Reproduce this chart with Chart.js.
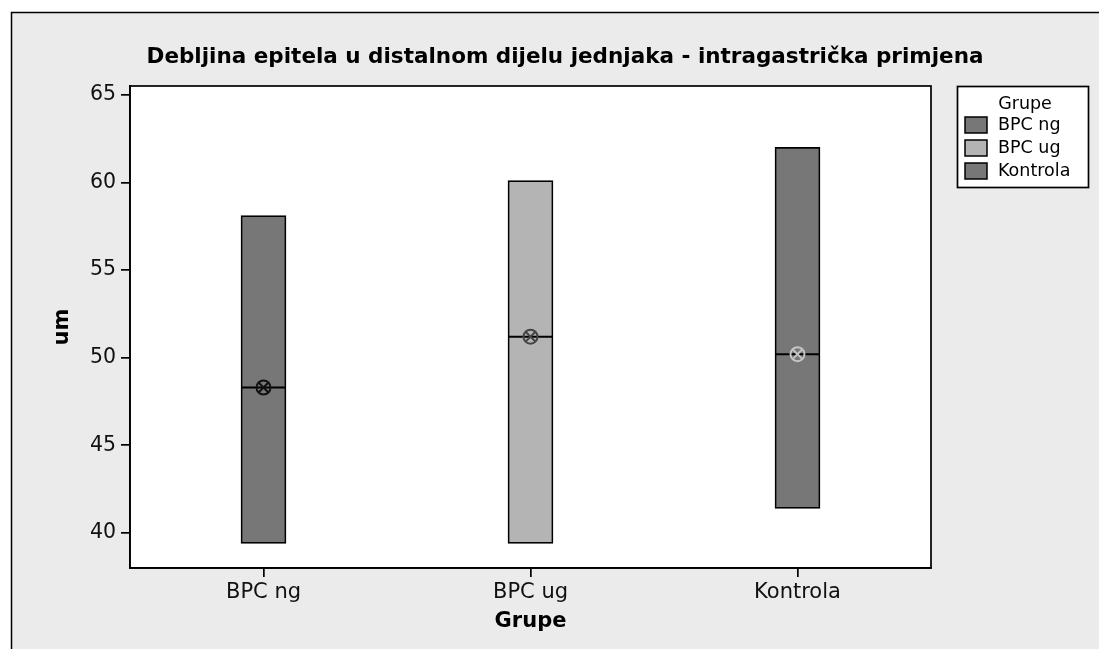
<!DOCTYPE html>
<html>
<head>
<meta charset="utf-8">
<script src="https://cdn.jsdelivr.net/npm/chart.js@4.4.1/dist/chart.umd.min.js"></script>
<style>
  html, body { margin: 0; padding: 0; background: #ffffff; }
  #wrap { width: 1099px; height: 649px; }
</style>
</head>
<body>
<div id="wrap"><canvas id="c" width="1099" height="649"></canvas></div>
<script>
// ---- data ----
const chartTitle = 'Debljina epitela u distalnom dijelu jednjaka - intragastrička primjena';
const categories = ['BPC ng', 'BPC ug', 'Kontrola'];
const lowValues = [39.4, 39.4, 41.4];
const highValues = [58.1, 60.1, 62.0];
const medianValues = [48.3, 51.2, 50.2];
const meanValues = [48.3, 51.2, 50.2];
const yTicks = [40, 45, 50, 55, 60, 65];
const xAxisTitle = 'Grupe';
const yAxisTitle = 'um';
const legendTitle = 'Grupe';

// ---- styles ----
const boxColors = ['#777777', '#b4b4b4', '#777777'];
const meanColors = ['#111111', '#444444', '#c4c4c4'];
const FONT = '"DejaVu Sans", Verdana, sans-serif';

const floating = categories.map((c, i) => [lowValues[i], highValues[i]]);

const decor = {
  id: 'decor',
  beforeDraw(chart) {
    const ctx = chart.ctx, W = chart.width, H = chart.height, a = chart.chartArea;
    ctx.save();
    ctx.fillStyle = '#ffffff';
    ctx.fillRect(0, 0, W, H);
    ctx.fillStyle = '#ebebeb';
    ctx.fillRect(11, 12, W - 11, H - 12);
    ctx.strokeStyle = '#000';
    ctx.lineWidth = 1.5;
    ctx.beginPath();
    ctx.moveTo(11.5, H); ctx.lineTo(11.5, 12.5); ctx.lineTo(W, 12.5);
    ctx.stroke();
    ctx.fillStyle = '#ffffff';
    ctx.fillRect(a.left, a.top, a.right - a.left, a.bottom - a.top);
    // title
    ctx.fillStyle = '#000';
    ctx.font = 'bold 21.5px ' + FONT;
    ctx.textAlign = 'center';
    ctx.textBaseline = 'middle';
    ctx.fillText(chartTitle, 565, 57);
    ctx.restore();
  },
  afterDraw(chart) {
    const ctx = chart.ctx, a = chart.chartArea;
    ctx.save();
    ctx.strokeStyle = '#000';
    ctx.lineWidth = 1.7;
    ctx.strokeRect(a.left, a.top, a.right - a.left, a.bottom - a.top);
    // legend
    const lx = 957, ly = 86, lw = 131, lh = 101;
    ctx.fillStyle = '#fff';
    ctx.fillRect(lx, ly, lw, lh);
    ctx.strokeRect(lx + 0.5, ly + 0.5, lw, lh);
    ctx.fillStyle = '#000';
    ctx.font = '17.5px ' + FONT;
    ctx.textAlign = 'center';
    ctx.textBaseline = 'middle';
    ctx.fillText(legendTitle, 1025, 104);
    ctx.textAlign = 'left';
    categories.forEach((c, i) => {
      const cy = 125 + i * 23;
      ctx.fillStyle = boxColors[i];
      ctx.fillRect(965, cy - 8, 22, 16);
      ctx.lineWidth = 1.5;
      ctx.strokeRect(965, cy - 8, 22, 16);
      ctx.fillStyle = '#000';
      ctx.fillText(c, 998, cy);
    });
    ctx.restore();
  }
};

new Chart(document.getElementById('c'), {
  data: {
    labels: categories,
    datasets: [
      {
        type: 'line', label: 'meanCircle', data: meanValues, showLine: false, order: 1,
        pointStyle: 'circle', pointRadius: 7, pointBorderWidth: 2,
        pointBackgroundColor: 'rgba(0,0,0,0)', pointBorderColor: meanColors
      },
      {
        type: 'line', label: 'meanCross', data: meanValues, showLine: false, order: 1,
        pointStyle: 'crossRot', pointRadius: 7, pointBorderWidth: 2,
        pointBackgroundColor: 'rgba(0,0,0,0)', pointBorderColor: meanColors
      },
      {
        type: 'line', label: 'median', data: medianValues, showLine: false, order: 2,
        pointStyle: 'line', pointRadius: 22.5, pointBorderWidth: 2,
        pointBorderColor: '#000'
      },
      {
        type: 'bar', label: 'range', data: floating, order: 3,
        backgroundColor: boxColors, borderColor: '#000', borderWidth: 1.7,
        borderSkipped: false, barThickness: 45
      }
    ]
  },
  options: {
    responsive: false,
    animation: false,
    events: [],
    layout: { padding: { top: 86, right: 168, left: 0, bottom: 0 } },
    plugins: { legend: { display: false }, tooltip: { enabled: false }, title: { display: false } },
    scales: {
      x: {
        type: 'category',
        offset: true,
        grid: { display: true, offset: false, drawOnChartArea: false, drawTicks: true, tickLength: 9, color: '#000', lineWidth: 1.7 },
        border: { display: true, color: '#000', width: 1.7 },
        ticks: { color: '#111', font: { family: FONT, size: 21 }, padding: 3 },
        title: { display: true, text: xAxisTitle, color: '#000', font: { family: FONT, size: 21, weight: 'bold' }, padding: { top: 0, bottom: 15 } },
        afterFit(s) { s.height = 81; }
      },
      y: {
        type: 'linear',
        min: 38, max: 65.5,
        afterBuildTicks(s) { s.ticks = yTicks.map(v => ({ value: v })); },
        grid: { display: true, drawOnChartArea: false, drawTicks: true, tickLength: 9, color: '#000', lineWidth: 1.7 },
        border: { display: true, color: '#000', width: 1.7 },
        ticks: { color: '#111', font: { family: FONT, size: 20.5 }, padding: 5 },
        title: { display: true, text: yAxisTitle, color: '#000', font: { family: FONT, size: 21, weight: 'bold' }, padding: { top: 50, bottom: 0 } },
        afterFit(s) { s.width = 130; }
      }
    }
  },
  plugins: [decor]
});
</script>
</body>
</html>
